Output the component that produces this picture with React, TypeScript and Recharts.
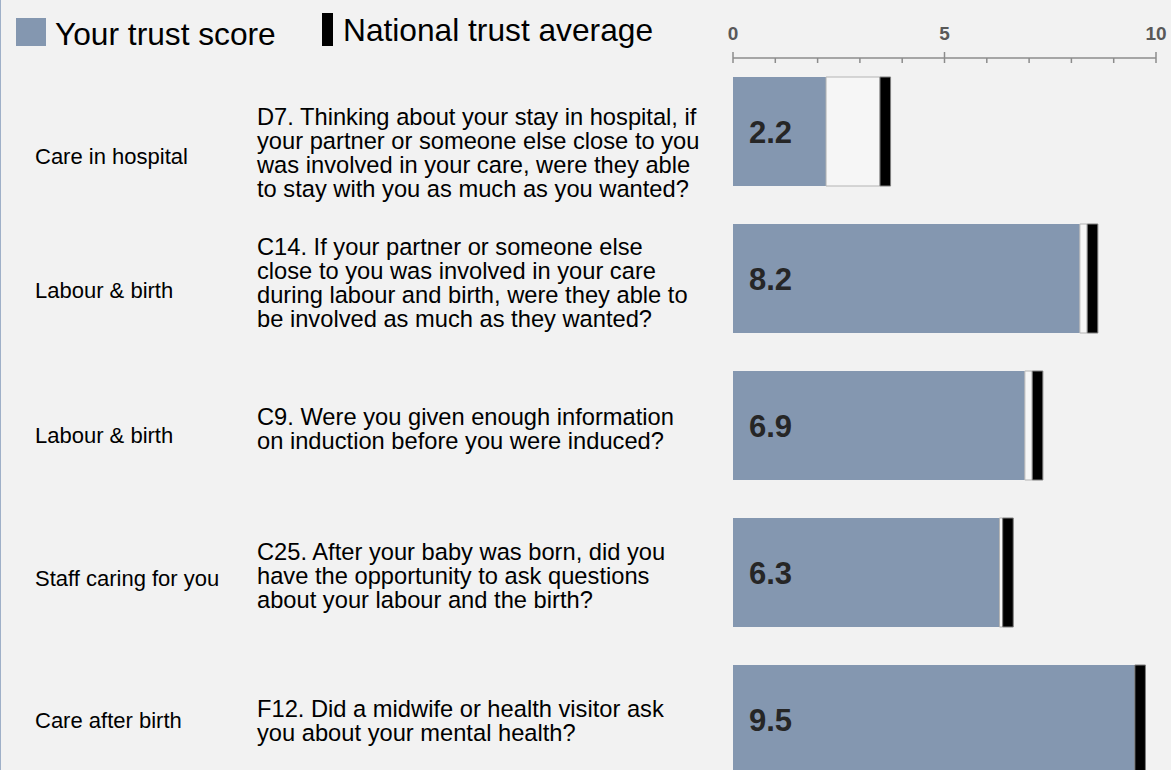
import { BarChart, Bar, XAxis, YAxis, Legend, LabelList } from "recharts";

const questionIds = ["D7", "C14", "C9", "C25", "F12"];

const themes = [
  "Care in hospital",
  "Labour & birth",
  "Labour & birth",
  "Staff caring for you",
  "Care after birth",
];

const questionLines = [
  [
    "D7. Thinking about your stay in hospital, if",
    "your partner or someone else close to you",
    "was involved in your care, were they able",
    "to stay with you as much as you wanted?",
  ],
  [
    "C14. If your partner or someone else",
    "close to you was involved in your care",
    "during labour and birth, were they able to",
    "be involved as much as they wanted?",
  ],
  ["C9. Were you given enough information", "on induction before you were induced?"],
  [
    "C25. After your baby was born, did you",
    "have the opportunity to ask questions",
    "about your labour and the birth?",
  ],
  ["F12. Did a midwife or health visitor ask", "you about your mental health?"],
];

const trustScores = [2.2, 8.2, 6.9, 6.3, 9.5];
const nationalAverages = [3.6, 8.5, 7.2, 6.5, 9.6];

const axisTicks = [0, 1, 2, 3, 4, 5, 6, 7, 8, 9, 10];
const labelledTicks = [0, 5, 10];

const FONT = '"Liberation Sans", Arial, sans-serif';
const SCORE_COLOR = "#8497b0";
const AXIS_COLOR = "#8c8c8c";
// width of the black national-average marker, in score units
const MARKER = 0.25;

// the left-hand text in the original isn't quite centred on its bar
const blockShift = [18, 1, 0, 0, -2];
const themeShift = [4, 8, 7, 3, 0];

const rows = questionIds.map((id, i) => {
  const markerStart = Math.max(trustScores[i], nationalAverages[i] - MARKER / 2);
  return {
    id,
    score: trustScores[i],
    gap: markerStart - trustScores[i],
    marker: MARKER,
  };
});

function ScoreTick(props: any) {
  const { x, y, payload } = props;
  const v = payload.value;
  const major = v % 5 === 0;
  return (
    <g>
      <line
        x1={x}
        x2={x}
        y1={major ? y - 6 : y}
        y2={y + 5}
        stroke={AXIS_COLOR}
        strokeWidth={1.5}
      />
      {labelledTicks.includes(v) && (
        <text
          x={x}
          y={y - 18}
          textAnchor="middle"
          fontFamily={FONT}
          fontWeight="bold"
          fontSize={19}
          fill="#595959"
        >
          {v}
        </text>
      )}
    </g>
  );
}

function QuestionTick(props: any) {
  const { y, index } = props;
  const lines = questionLines[index] || [];
  const lineGap = 24;
  const mid = y + 3 + (blockShift[index] || 0);
  const first = mid - ((lines.length - 1) * lineGap) / 2;
  return (
    <g fontFamily={FONT} fill="#000">
      <text x={35} y={mid + (themeShift[index] || 0) + 22 * 0.35} fontSize={22}>
        {themes[index]}
      </text>
      {lines.map((l, k) => (
        <text key={k} x={257} y={first + k * lineGap + 23.7 * 0.35} fontSize={23.7}>
          {l}
        </text>
      ))}
    </g>
  );
}

function TrustLegend() {
  return (
    <svg width={700} height={58} style={{ display: "block" }}>
      <rect x={16} y={18} width={30} height={28} fill={SCORE_COLOR} />
      <text x={55} y={45} fontFamily={FONT} fontSize={31.7} fill="#000">
        Your trust score
      </text>
      <rect x={322} y={13} width={11} height={33} fill="#000" />
      <text x={343} y={41} fontFamily={FONT} fontSize={31.7} fill="#000">
        National trust average
      </text>
    </svg>
  );
}

export default function App() {
  return (
    <div
      style={{
        position: "absolute",
        left: 0,
        top: 0,
        width: 1171,
        height: 770,
        overflow: "hidden",
        background: "#f2f2f2",
        boxShadow: "inset 1px 0 0 #9fb0c8",
      }}
    >
      <BarChart
        width={1171}
        height={793}
        data={rows}
        layout="vertical"
        margin={{ top: 0, right: 15, bottom: 0, left: 0 }}
        barSize={109}
      >
        <XAxis
          type="number"
          orientation="top"
          domain={[0, 10]}
          ticks={axisTicks}
          interval={0}
          height={58}
          tickSize={0}
          tickMargin={0}
          tickLine={false}
          axisLine={{ stroke: AXIS_COLOR, strokeWidth: 1.5 }}
          tick={<ScoreTick />}
        />
        <YAxis
          type="category"
          dataKey="id"
          width={733}
          tickLine={false}
          axisLine={false}
          interval={0}
          tick={<QuestionTick />}
        />
        <Legend
          layout="horizontal"
          verticalAlign="middle"
          align="center"
          wrapperStyle={{ top: 0, left: 0, width: 700, height: 58 }}
          content={() => <TrustLegend />}
        />
        <Bar dataKey="score" stackId="s" fill={SCORE_COLOR} isAnimationActive={false}>
          <LabelList
            dataKey="score"
            position="insideLeft"
            offset={16}
            fill="#262626"
            fontFamily={FONT}
            fontWeight="bold"
            fontSize={31}
            formatter={(v: any) => Number(v).toFixed(1)}
          />
        </Bar>
        <Bar
          dataKey="gap"
          stackId="s"
          fill="#f6f6f6"
          stroke="#b4b4b4"
          strokeWidth={1}
          isAnimationActive={false}
        />
        <Bar
          dataKey="marker"
          stackId="s"
          fill="#000"
          stroke="#7f7f7f"
          strokeWidth={1}
          isAnimationActive={false}
        />
      </BarChart>
    </div>
  );
}
